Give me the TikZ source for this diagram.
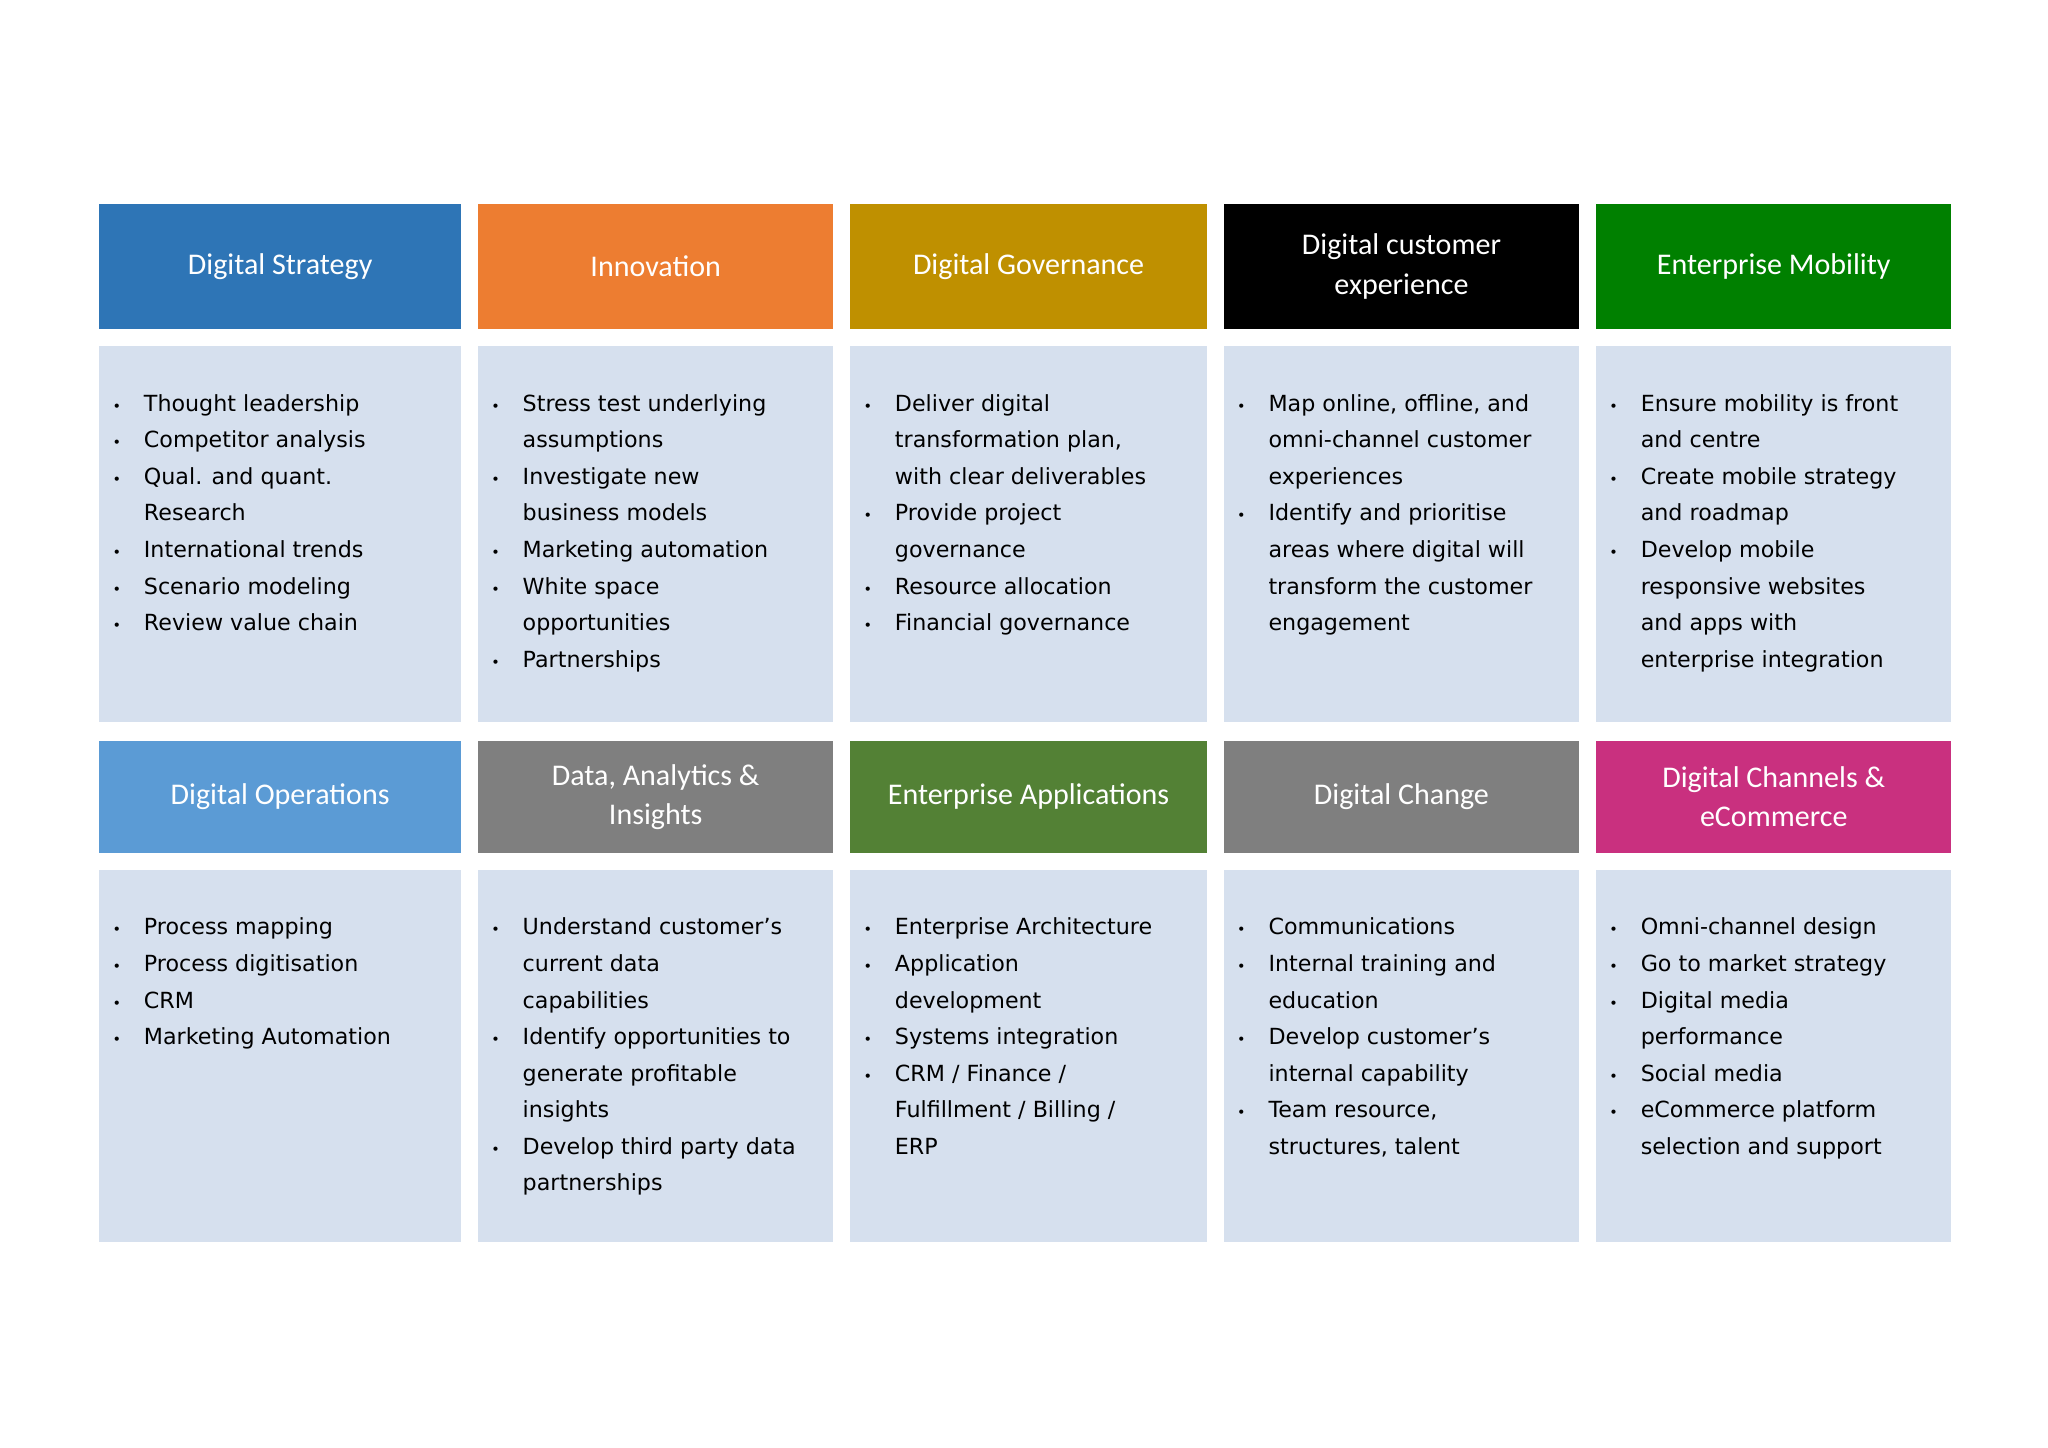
\documentclass[tikz,border=0pt]{standalone}
\usepackage{fontspec}
\setmainfont{DejaVu Sans}
\newfontfamily\hfont{Carlito}
\definecolor{cA}{HTML}{2E75B6}\definecolor{cB}{HTML}{ED7D31}\definecolor{cC}{HTML}{BF9000}
\definecolor{cD}{HTML}{000000}\definecolor{cE}{HTML}{008000}\definecolor{cF}{HTML}{5B9BD5}
\definecolor{cG}{HTML}{7F7F7F}\definecolor{cH}{HTML}{538135}\definecolor{cI}{HTML}{C9307F}
\definecolor{bodyc}{HTML}{D6E0EE}
\newcommand{\hdr}[6]{\fill[#5] (#1,#2) rectangle (#3,#4);
 \node[hdrtxt] (h#1#2) at ({(#1+#3)/2},{(#2+#4)/2}) {#6};}
\newcommand{\bod}[5]{\fill[bodyc] (#1,#2) rectangle (#3,#4);
 \node[anchor=north west,inner sep=0pt] (b#1#2) at ({#1+10},{#2+30}) {\fontsize{17}{28}\selectfont\begin{tabular}{@{}p{24pt}@{}l@{}}#5\end{tabular}};}
\newcommand{\bl}{\fontsize{11}{28}\selectfont\textbullet}
\begin{document}
\begin{tikzpicture}[x=1pt,y=-1pt,hdrtxt/.style={text=white,align=center,font=\hfont\fontsize{23}{30}\selectfont}]
\useasboundingbox (0,0) rectangle (1568,1108);
\hdr{76}{156}{353}{252}{cA}{Digital Strategy}
\hdr{366}{156}{638}{252}{cB}{Innovation}
\hdr{651}{156}{924}{252}{cC}{Digital Governance}
\hdr{937}{156}{1209}{252}{cD}{Digital customer\\experience}
\hdr{1222}{156}{1494}{252}{cE}{Enterprise Mobility}
\hdr{76}{567}{353}{653}{cF}{Digital Operations}
\hdr{366}{567}{638}{653}{cG}{Data, Analytics \&\\Insights}
\hdr{651}{567}{924}{653}{cH}{Enterprise Applications}
\hdr{937}{567}{1209}{653}{cG}{Digital Change}
\hdr{1222}{567}{1494}{653}{cI}{Digital Channels \&\\eCommerce}
\bod{76}{265}{353}{553}{\bl&Thought leadership\\\bl&Competitor analysis\\\bl&Qual. and quant.\\&Research\\\bl&International trends\\\bl&Scenario modeling\\\bl&Review value chain}
\bod{366}{265}{638}{553}{\bl&Stress test underlying\\&assumptions\\\bl&Investigate new\\&business models\\\bl&Marketing automation\\\bl&White space\\&opportunities\\\bl&Partnerships}
\bod{651}{265}{924}{553}{\bl&Deliver digital\\&transformation plan,\\&with clear deliverables\\\bl&Provide project\\&governance\\\bl&Resource allocation\\\bl&Financial governance}
\bod{937}{265}{1209}{553}{\bl&Map online, offline, and\\&omni-channel customer\\&experiences\\\bl&Identify and prioritise\\&areas where digital will\\&transform the customer\\&engagement}
\bod{1222}{265}{1494}{553}{\bl&Ensure mobility is front\\&and centre\\\bl&Create mobile strategy\\&and roadmap\\\bl&Develop mobile\\&responsive websites\\&and apps with\\&enterprise integration}
\bod{76}{666}{353}{951}{\bl&Process mapping\\\bl&Process digitisation\\\bl&CRM\\\bl&Marketing Automation}
\bod{366}{666}{638}{951}{\bl&Understand customer’s\\&current data\\&capabilities\\\bl&Identify opportunities to\\&generate profitable\\&insights\\\bl&Develop third party data\\&partnerships}
\bod{651}{666}{924}{951}{\bl&Enterprise Architecture\\\bl&Application\\&development\\\bl&Systems integration\\\bl&CRM / Finance /\\&Fulfillment / Billing /\\&ERP}
\bod{937}{666}{1209}{951}{\bl&Communications\\\bl&Internal training and\\&education\\\bl&Develop customer’s\\&internal capability\\\bl&Team resource,\\&structures, talent}
\bod{1222}{666}{1494}{951}{\bl&Omni-channel design\\\bl&Go to market strategy\\\bl&Digital media\\&performance\\\bl&Social media\\\bl&eCommerce platform\\&selection and support}
\end{tikzpicture}
\end{document}
